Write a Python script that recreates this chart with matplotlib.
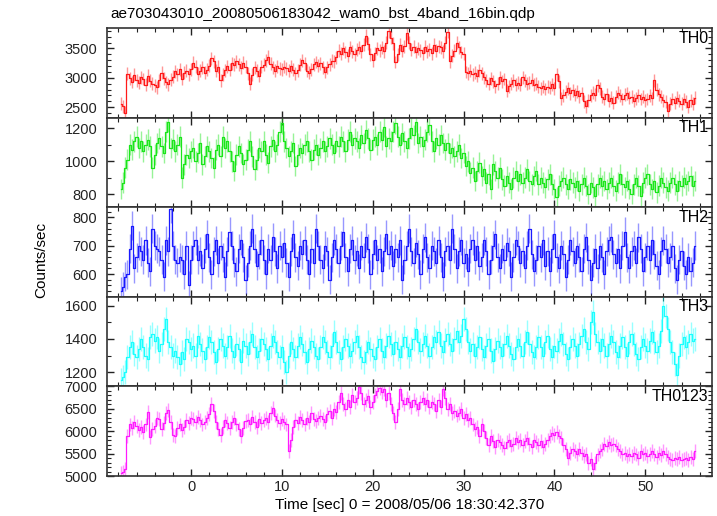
import matplotlib.pyplot as plt
import numpy as np
from matplotlib.ticker import MultipleLocator

plt.rcParams['font.family'] = ['Liberation Sans', 'DejaVu Sans']

# light curves, 0.25 s bins starting at t = -7.75 s
t_start = -7.75
dt = 0.25

th0 = [2560, 2520, 2410, 3070, 2990, 2930, 3050, 2960,
       2920, 3010, 2980, 2880, 3040, 2950, 2900, 2870,
       2840, 2960, 3090, 2990, 2930, 2890, 2970, 3020,
       3110, 3060, 3150, 2980, 3090, 3120, 3060, 3150,
       3260, 3190, 3070, 3120, 3180, 3090, 3140, 3210,
       3330, 3280, 3120, 3190, 2960, 3050, 3130, 3200,
       3140, 3250, 3220, 3280, 3230, 3170, 3260, 3190,
       3080, 2900, 3050, 3180, 3120, 3040, 3190, 3220,
       3300, 3360, 3240, 3180, 3120, 3200, 3160, 3150,
       3190, 3160, 3120, 3200, 3140, 3080, 3130, 3220,
       3300, 3250, 3120, 3090, 3150, 3230, 3270, 3210,
       3250, 3180, 3100, 3180, 3230, 3290, 3280, 3350,
       3460, 3410, 3500, 3440, 3380, 3520, 3450, 3400,
       3480, 3520, 3450, 3560, 3720, 3580, 3400, 3300,
       3420, 3500, 3470, 3520, 3450, 3600, 3790, 3680,
       3590, 3270, 3400, 3560, 3460, 3540, 3760, 3600,
       3480, 3530, 3440, 3500, 3470, 3420, 3530, 3450,
       3490, 3420, 3560, 3460, 3540, 3520, 3450, 3600,
       3780, 3280, 3380, 3460, 3600, 3520, 3440, 3410,
       3100, 3080, 3120, 3060, 3090, 3040, 3130, 3080,
       3010, 2960, 2900, 2990, 2940, 2860, 2900, 3010,
       2940, 2980, 2780, 2860, 2900, 2960, 2880, 2920,
       2880, 3010, 2960, 2900, 2920, 2970, 2880, 2900,
       2850, 2820, 2860, 2810, 2850, 2830, 2890, 2820,
       3060, 2940, 2650, 2700, 2760, 2820, 2740, 2790,
       2710, 2770, 2690, 2740, 2600, 2520, 2620, 2700,
       2750, 2710, 2870, 2820, 2680, 2640, 2720, 2610,
       2660, 2580, 2680, 2750, 2700, 2640, 2710, 2740,
       2660, 2680, 2610, 2650, 2700, 2640, 2680, 2620,
       2640, 2700, 2650, 2960, 2800, 2720, 2680, 2620,
       2590, 2440, 2560, 2640, 2580, 2660, 2610, 2560,
       2640, 2590, 2510, 2620, 2560, 2660]

th1 = [830, 870, 960, 1010, 1100, 1070, 1120, 1150,
       1080, 1120, 1060, 1100, 1130, 1090, 960, 1040,
       1110, 1140, 1090, 1050, 1180, 1240, 1080, 1130,
       1060, 1100, 1150, 900, 980, 1040, 1020, 1060,
       1080, 1000, 1050, 1110, 980, 1030, 1090, 1060,
       1020, 960, 1070, 1100, 1030, 1150, 1080, 1120,
       1060, 1000, 940, 1040, 1090, 1050, 980, 1010,
       1070, 1120, 1030, 950, 1010, 1080, 1060, 1120,
       1040, 990, 1090, 1130, 1060, 1100, 1180, 1230,
       1120, 1080, 1030, 1060, 1110, 970, 1040, 1080,
       1050, 1100, 1120, 1060, 1010, 1070, 1100, 1040,
       1080, 1120, 1060, 1090, 1140, 1100, 1050, 1120,
       1090, 1150, 1120, 1060, 1130, 1180, 1100, 1140,
       1120, 1080, 1160, 1110, 1190, 1140, 1070, 1130,
       1150, 1100, 1180, 1130, 1210, 1090, 1140, 1120,
       1180, 1230, 1150, 1100, 1170, 1120, 1080, 1140,
       1200, 1160, 1240, 1110, 1150, 1090, 1130, 1180,
       1220, 1120, 1060, 1140, 1100, 1160, 1110, 1070,
       1110, 1050, 1080, 1030, 1060, 1100, 1020, 1050,
       970, 1000, 930, 960, 880, 940, 990, 910,
       950, 870, 920, 830, 980, 940, 900, 960,
       890, 850, 910, 870, 830, 900, 940, 880,
       920, 870, 900, 950, 880, 860, 910, 940,
       860, 900, 870, 840, 890, 920, 860, 830,
       780, 850, 880, 900, 860, 830, 890, 870,
       840, 880, 820, 860, 900, 850, 800, 870,
       840, 790, 860, 900, 850, 880, 830, 870,
       900, 850, 820, 870, 920, 860, 840, 880,
       830, 800, 860, 900, 850, 790, 870, 900,
       920, 860, 830, 880, 810, 850, 900, 870,
       840, 820, 870, 900, 860, 820, 880, 850,
       900, 860, 880, 910, 850, 880]

th2 = [540, 555, 590, 600, 690, 770, 620, 660,
       700, 680, 650, 720, 640, 610, 760, 700,
       690, 680, 650, 590, 720, 680, 830, 700,
       650, 640, 660, 650, 600, 700, 560, 650,
       700, 720, 650, 680, 620, 690, 740, 660,
       600, 680, 720, 640, 700, 660, 590, 680,
       750, 700, 640, 610, 690, 720, 660, 580,
       640, 700, 760, 690, 630, 670, 720, 650,
       600, 690, 650, 730, 680, 620, 700, 660,
       710, 640, 590, 680, 740, 660, 630, 700,
       670, 720, 650, 600, 690, 640, 760, 700,
       650, 620, 700, 680, 580, 660, 720, 690,
       640, 700, 750, 660, 610, 690, 720, 650,
       680, 620, 700, 660, 730, 690, 600, 670,
       720, 650, 690, 610, 680, 740, 670, 700,
       630, 690, 660, 720, 580, 650, 700, 760,
       680, 640, 710, 670, 600, 690, 730, 660,
       620, 700, 680, 640, 720, 660, 590, 680,
       700, 650, 760, 690, 620, 680, 720, 640,
       670, 610, 690, 720, 650, 700, 630, 660,
       720, 680, 600, 650, 700, 740, 660, 620,
       690, 650, 710, 680, 590, 660, 720, 700,
       640, 680, 620, 700, 760, 670, 610, 650,
       700, 660, 720, 630, 680, 610, 690, 740,
       660, 620, 700, 670, 590, 650, 720, 680,
       640, 700, 660, 610, 690, 730, 650, 580,
       640, 690, 620, 700, 660, 600, 680, 720,
       730, 670, 640, 690, 620, 700, 750, 660,
       620, 680, 700, 640, 730, 690, 610, 660,
       700, 650, 720, 670, 630, 600, 680, 720,
       690, 640, 660, 700, 620, 580, 650, 680,
       630, 600, 660, 610, 640, 700]

th3 = [1150, 1170, 1200, 1290, 1350, 1380, 1310, 1290,
       1340, 1400, 1350, 1300, 1280, 1410, 1430, 1390,
       1410, 1330, 1370, 1460, 1520, 1380, 1350, 1300,
       1330, 1290, 1250, 1320, 1280, 1400, 1380, 1340,
       1360, 1300, 1420, 1370, 1330, 1280, 1350, 1410,
       1380, 1320, 1260, 1340, 1400, 1360, 1300, 1350,
       1420, 1330, 1290, 1370, 1340, 1260, 1390, 1360,
       1310, 1380, 1430, 1350, 1290, 1330, 1400, 1370,
       1340, 1280, 1360, 1420, 1380, 1320, 1290, 1350,
       1260, 1200, 1300, 1380, 1340, 1290, 1360, 1410,
       1370, 1320, 1260, 1340, 1390, 1350, 1300, 1280,
       1350, 1410, 1380, 1320, 1290, 1360, 1440, 1380,
       1320, 1280, 1350, 1400, 1360, 1300, 1330, 1380,
       1420, 1350, 1290, 1260, 1320, 1380, 1340, 1300,
       1280, 1350, 1400, 1330, 1290, 1360, 1420, 1370,
       1310, 1380, 1340, 1290, 1360, 1410, 1350, 1300,
       1340, 1400, 1460, 1380, 1330, 1370, 1420, 1360,
       1300, 1350, 1410, 1380, 1440, 1360, 1320, 1390,
       1430, 1370, 1330, 1400, 1450, 1380, 1420, 1520,
       1460, 1380, 1330, 1370, 1300, 1350, 1410, 1340,
       1290, 1360, 1400, 1330, 1270, 1340, 1390, 1350,
       1300, 1370, 1420, 1360, 1310, 1280, 1350, 1400,
       1360, 1300, 1380, 1440, 1370, 1320, 1290, 1350,
       1410, 1350, 1300, 1380, 1420, 1340, 1290, 1360,
       1330, 1390, 1430, 1370, 1310, 1280, 1350, 1400,
       1360, 1300, 1370, 1420, 1460, 1380, 1340, 1500,
       1560, 1430, 1380, 1330, 1400, 1360, 1300, 1370,
       1420, 1380, 1320, 1290, 1360, 1410, 1350, 1300,
       1380, 1430, 1370, 1310, 1280, 1350, 1400, 1360,
       1330, 1390, 1440, 1380, 1320, 1360, 1450, 1600,
       1540, 1460, 1380, 1320, 1250, 1180, 1300, 1370,
       1410, 1350, 1380, 1430, 1390, 1400]

th0123 = [5060, 5090, 5150, 5900, 6150, 6080, 6200, 6120,
          6030, 6090, 5980, 6150, 6420, 5870, 6040, 6120,
          6300, 6280, 6050, 6180, 6400, 6470, 6210, 5920,
          5900, 6080, 6150, 6020, 6100, 6250, 6180, 6300,
          6280, 6200, 6320, 6250, 6150, 6210, 6300, 6380,
          6600, 6450, 6200, 6050, 5920, 6100, 6250, 6180,
          6080, 6200, 6300, 6150, 6050, 5900, 6080, 6220,
          6250, 6150, 6320, 6200, 6100, 6280, 6180, 6250,
          6300, 6200, 6400, 6520, 6350, 6250, 6180, 6280,
          6200, 6150, 5550, 5800, 6100, 6250, 6180, 6320,
          6250, 6150, 6300, 6200, 6400, 6280, 6220, 6300,
          6350, 6280, 6200, 6380, 6450, 6300, 6500, 6420,
          6650, 6850, 6600, 6500, 6700, 6550, 6800, 6650,
          6750, 6980, 6850, 6600, 6700, 6780, 6550, 6650,
          6800, 6900, 6960, 6880, 6950, 6700, 6850, 6600,
          6400, 6200, 6500, 6950, 6700, 6600, 6750, 6650,
          6550, 6700, 6600, 6500, 6650, 6750, 6600, 6700,
          6550, 6650, 6600, 6450, 6700, 6550, 6950, 6750,
          6500, 6600, 6400, 6450, 6350, 6400, 6500, 6300,
          6380, 6250, 6300, 6150, 6050, 6100, 5900, 6150,
          6000, 5850, 5700, 5900, 5780, 5650, 5800, 5750,
          5700, 5620, 5750, 5800, 5680, 5720, 5850, 5760,
          5800, 5700, 5780, 5850, 5720, 5650, 5800, 5750,
          5700, 5780, 5650, 5720, 5800, 5900, 5950, 5920,
          5980, 5900, 5850, 5700, 5600, 5400, 5520, 5600,
          5550, 5480, 5600, 5520, 5450, 5500, 5300, 5380,
          5150, 5300, 5480, 5550, 5600, 5720, 5680, 5750,
          5700, 5720, 5680, 5600, 5550, 5480, 5520, 5450,
          5500, 5450, 5520, 5480, 5400, 5550, 5480, 5520,
          5450, 5500, 5550, 5480, 5420, 5520, 5470, 5550,
          5500, 5420, 5380, 5350, 5400, 5370, 5420, 5350,
          5380, 5400, 5350, 5420, 5380, 5550]

series = [th0, th1, th2, th3, th0123]
labels = ['TH0', 'TH1', 'TH2', 'TH3', 'TH0123']
colors = ['#ff1a1a', '#1ae61a', '#1a1aff', '#1affff', '#ff1aff']
errors = [110, 63, 51, 73, 155]
ylims = [(2324, 3848), (720, 1265), (520, 836), (1114, 1654), (5000, 7000)]
majors = [500, 200, 100, 200, 500]
minors = [100, 100, 20, 100, 100]

fig = plt.figure(figsize=(7.17, 5.16), dpi=100)
left, right = 107 / 717, 711.5 / 717
top, bottom = 1 - 28 / 516, 1 - 476 / 516
h = (top - bottom) / 5

for i in range(5):
    y = np.array(series[i])
    time = t_start + dt * np.arange(len(y))
    ax = fig.add_axes([left, top - (i + 1) * h, right - left, h])
    ax.errorbar(time, y, yerr=errors[i], fmt='none', ecolor=colors[i],
                alpha=0.45, elinewidth=1.0)
    ax.step(time, y, where='mid', color=colors[i], lw=0.9)
    ax.set_xlim(-9.25, 57.3)
    ax.set_ylim(*ylims[i])
    ax.xaxis.set_major_locator(MultipleLocator(10))
    ax.xaxis.set_minor_locator(MultipleLocator(2))
    ax.yaxis.set_major_locator(MultipleLocator(majors[i]))
    ax.yaxis.set_minor_locator(MultipleLocator(minors[i]))
    ax.tick_params(which='both', direction='in', top=True, right=True,
                   labelsize=10.5, colors='#222222')
    ax.tick_params(axis='y', pad=7)
    ax.tick_params(axis='x', pad=3)
    ax.tick_params(which='major', length=5, width=1)
    ax.tick_params(which='minor', length=3, width=0.8)
    for s in ax.spines.values():
        s.set_linewidth(1.2)
        s.set_color('#333333')
    if i < 4:
        ax.tick_params(labelbottom=False)
    ax.text(0.995, 0.97, labels[i], transform=ax.transAxes, ha='right',
            va='top', fontsize=11.5, color='black')

fig.text(110 / 717, 1 - 14 / 516,
         'ae703043010_20080506183042_wam0_bst_4band_16bin.qdp',
         ha='left', va='center', fontsize=11)
fig.text(0.057, 1 - 260 / 516, 'Counts/sec', rotation=90,
         ha='center', va='center', fontsize=11)
fig.text((left + right) / 2, 1 - 505 / 516,
         'Time [sec] 0 = 2008/05/06 18:30:42.370',
         ha='center', va='center', fontsize=11)

fig.savefig('out.png', dpi=100)
